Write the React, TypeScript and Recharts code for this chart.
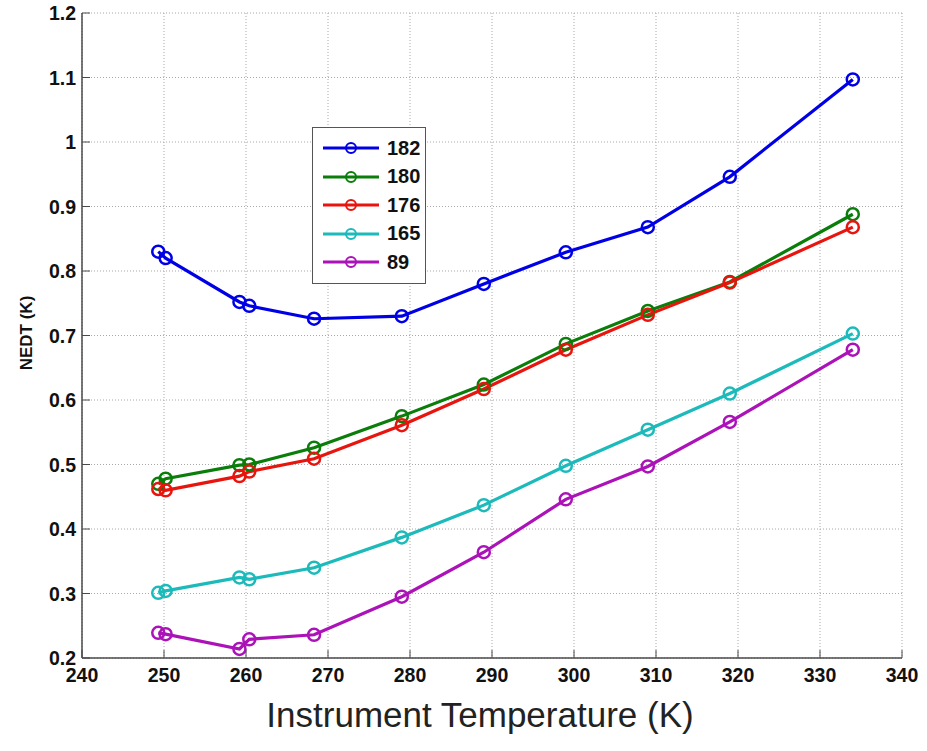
import { CartesianGrid, Legend, Line, LineChart, XAxis, YAxis } from 'recharts'

// instrument temperatures (K) at which NEDT was measured
const temps = [249.3, 250.2, 259.2, 260.4, 268.3, 279, 289, 299, 309, 319, 334]

// NEDT (K) per channel
const ch182 = [0.83, 0.82, 0.752, 0.746, 0.726, 0.73, 0.78, 0.829, 0.868, 0.946, 1.097]
const ch180 = [0.47, 0.478, 0.499, 0.5, 0.526, 0.575, 0.624, 0.687, 0.738, 0.783, 0.888]
const ch176 = [0.462, 0.46, 0.482, 0.489, 0.509, 0.561, 0.617, 0.678, 0.732, 0.782, 0.868]
const ch165 = [0.301, 0.304, 0.325, 0.322, 0.34, 0.387, 0.437, 0.498, 0.554, 0.61, 0.703]
const ch89 = [0.239, 0.237, 0.214, 0.229, 0.236, 0.295, 0.364, 0.446, 0.497, 0.566, 0.678]

const xTicks = [240, 250, 260, 270, 280, 290, 300, 310, 320, 330, 340]
const yTicks = [0.2, 0.3, 0.4, 0.5, 0.6, 0.7, 0.8, 0.9, 1, 1.1, 1.2]

const series = [
  { key: 'c182', name: '182', values: ch182, color: '#0000e6' },
  { key: 'c180', name: '180', values: ch180, color: '#0a7d0a' },
  { key: 'c176', name: '176', values: ch176, color: '#e8140e' },
  { key: 'c165', name: '165', values: ch165, color: '#1cbaba' },
  { key: 'c89', name: '89', values: ch89, color: '#ab12b8' },
]

const rows = temps.map((t, i) => {
  const r: Record<string, number> = { t }
  series.forEach((s) => (r[s.key] = s.values[i]))
  return r
})

const FONT = '"Liberation Sans", Arial, sans-serif'
const AXIS = '#4a4a4a'
const fmtY = (v: number) => String(Number(v.toFixed(1)))

const LeftTick = ({ x, y, payload }: any) => (
  <g>
    <line x1={x} x2={x + 8} y1={y} y2={y} stroke={AXIS} />
    <text x={x - 6} y={y} textAnchor="end" dominantBaseline="central" fontFamily={FONT} fontWeight="bold" fontSize={19.5} fill="#111">
      {fmtY(payload.value)}
    </text>
  </g>
)
const RightTick = ({ x, y }: any) => <line x1={x} x2={x - 8} y1={y} y2={y} stroke={AXIS} />
const BottomTick = ({ x, y, payload }: any) => (
  <g>
    <line x1={x} x2={x} y1={y} y2={y - 8} stroke={AXIS} />
    <text x={x} y={y + 23.5} textAnchor="middle" fontFamily={FONT} fontWeight="bold" fontSize={19.5} fill="#111">
      {payload.value}
    </text>
  </g>
)
const TopTick = ({ x, y }: any) => <line x1={x} x2={x} y1={y} y2={y + 8} stroke={AXIS} />

const LegendBox = () => (
  <div style={{ border: '1.5px solid #555', background: '#fff', width: 112, padding: '6px 0 6px 0', fontFamily: FONT }}>
    {series.map((s) => (
      <div key={s.key} style={{ display: 'flex', alignItems: 'center', height: 28.5 }}>
        <svg width={64} height={16} style={{ marginLeft: 8 }}>
          <line x1={2} x2={58} y1={8} y2={8} stroke={s.color} strokeWidth={3} />
          <circle cx={30} cy={8} r={5} fill="none" stroke={s.color} strokeWidth={2} />
          <line x1={27} x2={33} y1={8} y2={8} stroke={s.color} strokeWidth={1.5} />
        </svg>
        <span style={{ fontWeight: 'bold', fontSize: 20, color: '#111', marginLeft: 2 }}>{s.name}</span>
      </div>
    ))}
  </div>
)

export default function App() {
  return (
    <div style={{ position: 'absolute', left: 0, top: 0, width: 927, height: 751, background: '#fff' }}>
      <LineChart width={927} height={751} data={rows} margin={{ top: 13, right: 25, left: 0, bottom: 0 }}>
        <CartesianGrid stroke="#a8a8a8" strokeDasharray="1 2" />
        <XAxis
          dataKey="t"
          type="number"
          domain={[240, 340]}
          ticks={xTicks}
          interval={0}
          height={93}
          tickSize={0}
          tickMargin={0}
          tickLine={false}
          axisLine={{ stroke: AXIS, strokeWidth: 1.5 }}
          tick={<BottomTick />}
        />
        <XAxis
          xAxisId="top"
          orientation="top"
          type="number"
          domain={[240, 340]}
          ticks={xTicks}
          interval={0}
          height={0}
          tickSize={0}
          tickMargin={0}
          tickLine={false}
          axisLine={{ stroke: AXIS, strokeWidth: 1.5 }}
          tick={<TopTick />}
        />
        <YAxis
          type="number"
          domain={[0.2, 1.2]}
          ticks={yTicks}
          interval={0}
          width={82}
          tickSize={0}
          tickMargin={0}
          tickLine={false}
          axisLine={{ stroke: AXIS, strokeWidth: 1.5 }}
          tick={<LeftTick />}
        />
        <YAxis
          yAxisId="right"
          orientation="right"
          type="number"
          domain={[0.2, 1.2]}
          ticks={yTicks}
          interval={0}
          width={0}
          tickSize={0}
          tickMargin={0}
          tickLine={false}
          axisLine={{ stroke: AXIS, strokeWidth: 1.5 }}
          tick={<RightTick />}
        />
        <Legend
          layout="vertical"
          verticalAlign="middle"
          align="center"
          content={<LegendBox />}
          wrapperStyle={{ position: 'absolute', left: 312, top: 127, width: 'auto', height: 'auto' }}
        />
        {series.map((s) => (
          <Line
            key={s.key}
            dataKey={s.key}
            name={s.name}
            type="linear"
            stroke={s.color}
            strokeWidth={3.2}
            dot={{ r: 6, fill: 'none', stroke: s.color, strokeWidth: 2.5 }}
            activeDot={false}
            isAnimationActive={false}
          />
        ))}
        <text
          x={26}
          y={333}
          transform="rotate(-90 26 333)"
          textAnchor="middle"
          dominantBaseline="central"
          fontFamily={FONT}
          fontWeight="bold"
          fontSize={17}
          fill="#111"
        >
          NEDT (K)
        </text>
        <text x={480} y={727} textAnchor="middle" fontFamily={FONT} fontSize={35} fill="#222">
          Instrument Temperature (K)
        </text>
      </LineChart>
    </div>
  )
}
